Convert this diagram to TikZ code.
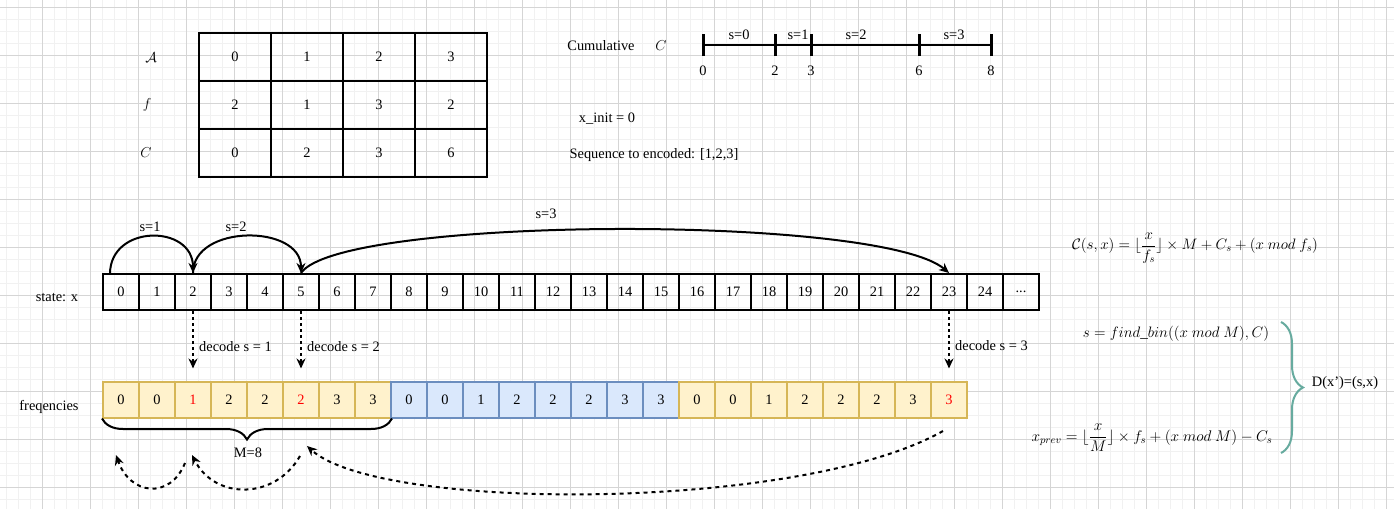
\documentclass[tikz,border=0pt]{standalone}
\usepackage[no-math]{fontspec}
\setmainfont{Liberation Serif}
\usetikzlibrary{arrows.meta,decorations.pathreplacing,calc}
\definecolor{yfill}{HTML}{FFF2CC}
\definecolor{ybord}{HTML}{D6B656}
\definecolor{bfill}{HTML}{DAE8FC}
\definecolor{bbord}{HTML}{6C8EBF}
\definecolor{gridminor}{HTML}{F1F1F1}
\definecolor{gridmajor}{HTML}{D5D5D5}
\definecolor{teal}{HTML}{67AB9F}
\definecolor{redtxt}{HTML}{FF0000}
\begin{document}
\begin{tikzpicture}[x=1pt,y=-1pt,
  txt/.style={font=\fontsize{14.4}{17}\selectfont, inner sep=0pt},
  mth/.style={font=\fontsize{14.4}{17}\selectfont, inner sep=0pt},
  cell/.style={draw=black, line width=2pt, minimum width=36pt, minimum height=36pt, inner sep=0pt, font=\fontsize{14.4}{17}\selectfont},
  ycell/.style={cell, fill=yfill, draw=ybord},
  bcell/.style={cell, fill=bfill, draw=bbord},
  tcell/.style={draw=black, line width=2pt, minimum width=72pt, minimum height=48pt, inner sep=0pt, font=\fontsize{14.4}{17}\selectfont},
  jump/.style={line width=2pt, -{Stealth[length=10pt,width=9pt]}},
  decodearrow/.style={line width=2pt, dash pattern=on 3pt off 3pt, -{Stealth[length=10pt,width=9pt]}},
  backarrow/.style={line width=2pt, dash pattern=on 4pt off 4pt, -{Stealth[length=10pt,width=9pt]}},
  tick/.style={line width=3pt},
  minorline/.style={gridminor, line width=1pt},
  majorline/.style={gridmajor, line width=1pt}
]
\useasboundingbox (0,0) rectangle (1394,509);
\fill[white] (0,0) rectangle (1394,509);
% grid
\foreach \x in {6,18,...,1394} \draw[minorline] (\x,0) -- (\x,509);
\foreach \y in {7,19,...,509} \draw[minorline] (0,\y) -- (1394,\y);
\foreach \x in {42,90,...,1394} \draw[majorline] (\x,0) -- (\x,509);
\foreach \y in {7,55,...,509} \draw[majorline] (0,\y) -- (1394,\y);

% table
\node[mth] (lA) at (151,58) {$\mathcal{A}$};
\node[mth] (lf) at (147,105) {$f$};
\node[mth] (lC) at (146,153) {$C$};
\foreach \c/\v in {0/0,1/1,2/2,3/3} \node[tcell] (tA\c) at ({235+72*\c},57) {\v};
\foreach \c/\v in {0/2,1/1,2/3,3/2} \node[tcell] (tf\c) at ({235+72*\c},105) {\v};
\foreach \c/\v in {0/0,1/2,2/3,3/6} \node[tcell] (tC\c) at ({235+72*\c},153) {\v};

% cumulative
\node[txt] (cumlab) at (601,46) {Cumulative};
\node[mth] (cumC) at (661,46) {$C$};
\coordinate (k0) at (703,45);
\coordinate (k2) at (775,45);
\coordinate (k3) at (811,45);
\coordinate (k6) at (919,45);
\coordinate (k8) at (991,45);
\draw[line width=2pt] (k0) -- (k8);
\foreach \k in {k0,k2,k3,k6,k8} \draw[tick] ($(\k)+(0,-11)$) -- ($(\k)+(0,11)$);
\foreach \k/\v in {k0/0,k2/2,k3/3,k6/6,k8/8} \node[txt] (n\k) at ($(\k)+(0,26)$) {\v};
\node[txt] (cs0) at (739,35) {s=0};
\node[txt] (cs1) at (798,35) {s=1};
\node[txt] (cs2) at (856,35) {s=2};
\node[txt] (cs3) at (954,35) {s=3};

\node[txt] (xinit) at (607,119) {x\_init = 0};
\node[txt] (seq) at (654,155) {Sequence to encoded: [1,2,3]};

% state row
\node[txt] (statelab) at (57,298) {state: x};
\foreach \i in {0,...,24} \node[cell] (s\i) at ({121+36*\i},292) {\i};
\node[cell] (s25) at (1021,292) {...};

% frequencies row
\node[txt] (freqlab) at (49,407) {freqencies};
\foreach \i/\v/\st in {0/0/ycell,1/0/ycell,2/{\color{redtxt}1}/ycell,3/2/ycell,4/2/ycell,5/{\color{redtxt}2}/ycell,6/3/ycell,7/3/ycell,
  8/0/bcell,9/0/bcell,10/1/bcell,11/2/bcell,12/2/bcell,13/2/bcell,14/3/bcell,15/3/bcell,
  16/0/ycell,17/0/ycell,18/1/ycell,19/2/ycell,20/2/ycell,21/2/ycell,22/3/ycell,23/{\color{redtxt}3}/ycell}
  \node[\st] (f\i) at ({121+36*\i},399.5) {\v};

% jumps
\coordinate (j0) at (110,274);
\draw[jump] (j0) .. controls (110,224) and (193,224) .. (s2.north);
\draw[jump] (s2.north) .. controls (193,224) and (301,224) .. (s5.north);
\draw[jump] (s5.north) .. controls (340,216) and (880,214) .. (s23.north);
\node[txt] (js1) at (150,227) {s=1};
\node[txt] (js2) at (236,227) {s=2};
\node[txt] (js3) at (546,214) {s=3};

% decode arrows
\draw[decodearrow] (s2.south) -- ([yshift=12pt]f2.north);
\draw[decodearrow] (s5.south) -- ([yshift=12pt]f5.north);
\draw[decodearrow] (s23.south) -- ([yshift=12pt]f23.north);
\node[txt, anchor=west] (dec1) at (199,347) {decode s = 1};
\node[txt, anchor=west] (dec2) at (307,347) {decode s = 2};
\node[txt, anchor=west] (dec3) at (955,346) {decode s = 3};

% brace M=8
\draw[line width=2pt, decorate, decoration={brace, mirror, amplitude=21pt}] (f0.south west) -- (f7.south east);
\node[txt] (mlab) at (248,453) {M=8};

% back arrows
\coordinate (b1s) at (943,431);
\coordinate (b1e) at (307,446);
\coordinate (b2s) at (300,456);
\coordinate (b2e) at (192,455);
\coordinate (b3s) at (185,463);
\coordinate (b3e) at (116,455);
\draw[backarrow] (b1s) .. controls (800,512) and (380,512) .. (b1e);
\draw[backarrow] (b2s) .. controls (275,500) and (215,500) .. (b2e);
\draw[backarrow] (b3s) .. controls (170,500) and (130,495) .. (b3e);

% formulas
\node[mth] (enc) at (1195,248) {\scalebox{1.05}{$\mathcal{C}(s,x) = \lfloor {\displaystyle\frac{x}{f_s}} \rfloor \times M + C_s + (x\ mod\ f_s)$}};
\node[mth] (fbin) at (1176,334) {\scalebox{1.05}{$s = find\_bin((x\ mod\ M), C)$}};
\node[mth] (xprev) at (1152,438) {\scalebox{1.07}{$x_{prev} = \lfloor {\displaystyle\frac{x}{M}} \rfloor \times f_s + (x\ mod\ M) - C_s$}};
\coordinate (br1) at (1281,322);
\coordinate (br2) at (1281,453);
\draw[teal, line width=2pt, decorate, decoration={brace, amplitude=22pt}] (br1) -- (br2);
\node[txt] (dlab) at (1345,383) {D(x')=(s,x)};
\end{tikzpicture}
\end{document}
